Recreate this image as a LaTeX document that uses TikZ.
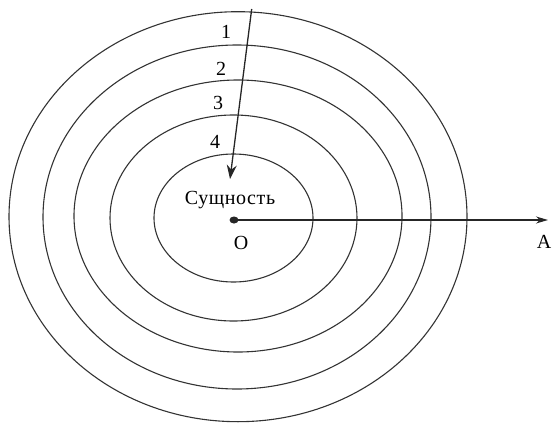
\documentclass[tikz,border=0pt]{standalone}
\usepackage{fontspec}
\setmainfont{Liberation Serif}
\usetikzlibrary{arrows.meta,shapes.geometric}
\begin{document}
\begin{tikzpicture}[x=1pt,y=-1pt,
  ring/.style={draw=black!80, line width=1.1pt},
  lbl/.style={font=\fontsize{20}{22}\selectfont, inner sep=0pt},
  conn/.style={draw=black!85, line width=1.3pt, -{Stealth[length=14pt,width=10pt]}}]
\useasboundingbox (0,0) rectangle (552,423);
\draw[ring] (238,216.7) ellipse [x radius=229, y radius=205];
\draw[ring] (237,217) ellipse [x radius=194, y radius=172];
\draw[ring] (238,216) ellipse [x radius=164, y radius=136];
\draw[ring] (233.5,218) ellipse [x radius=123.5, y radius=103];
\draw[ring] (233.5,218) ellipse [x radius=79.5, y radius=64];
\node[lbl] (n1) at (226,32) {1};
\node[lbl] (n2) at (221,69) {2};
\node[lbl] (n3) at (218,103) {3};
\node[lbl] (n4) at (215,142) {4};
\node[lbl] (ess) at (230,200) {\addfontfeature{LetterSpace=3}Сущность};
\node[lbl] (o) at (241,243) {O};
\node[lbl] (a) at (544,242) {A};
\node[ellipse, fill=black!85, inner sep=0pt, minimum width=9pt, minimum height=7pt] (dot) at (234,220) {};
\coordinate (top) at (251.7,9);
\coordinate (tip) at (230,179);
\coordinate (aend) at (548,220);
\draw[conn] (top) -- (tip);
\draw[conn, -{Stealth[length=12pt,width=7pt]}] (dot.center) -- (aend);
\end{tikzpicture}
\end{document}
